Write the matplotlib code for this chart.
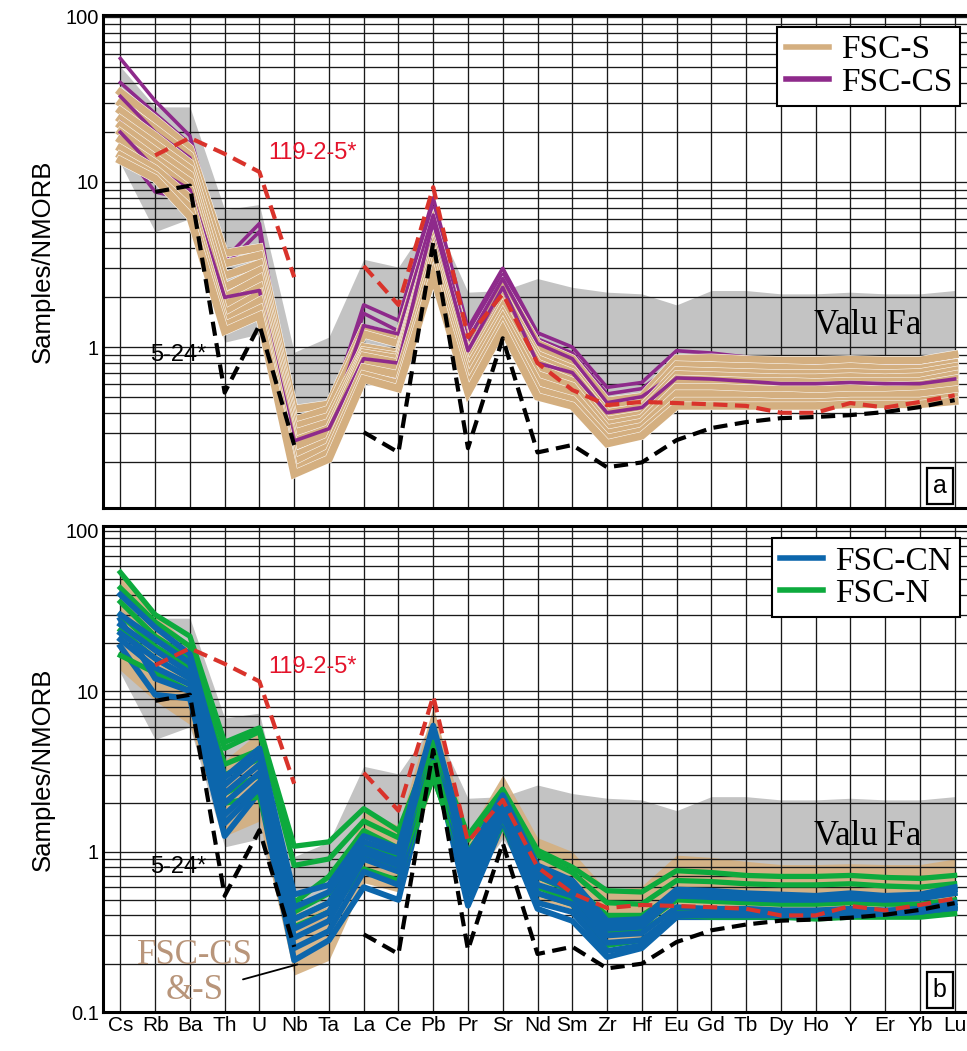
import numpy as np
import matplotlib
matplotlib.use("Agg")
import matplotlib.pyplot as plt
import matplotlib.patheffects as pe
from matplotlib.ticker import LogLocator, NullFormatter

# element order (NMORB normalised spider diagram)
elements = ["Cs", "Rb", "Ba", "Th", "U", "Nb", "Ta", "La", "Ce", "Pb", "Pr", "Sr", "Nd",
            "Sm", "Zr", "Hf", "Eu", "Gd", "Tb", "Dy", "Ho", "Y", "Er", "Yb", "Lu"]

# Valu Fa field (grey envelope)
valu_fa_upper = [50, 28.5, 28.5, 6.8, 7.3, 0.93, 1.15, 3.4, 3.05, 6.3, 2.15, 2.2, 2.6, 2.3,
                 2.15, 2.1, 1.8, 2.2, 2.2, 2.1, 2.1, 2.15, 2.1, 2.1, 2.2]
valu_fa_lower = [13, 5.0, 6.0, 1.07, 1.2, 0.27, 0.40, 0.8, 0.7, 3.3, 0.6, 1.2, 0.6, 0.55,
                 0.35, 0.38, 0.5, 0.55, 0.55, 0.55, 0.55, 0.55, 0.55, 0.55, 0.6]

# FSC-S samples (tan)
fsc_s = [
    [35, 24, 16, 3.7, 4.0, 0.42, 0.45, 1.3, 1.15, 5.6, 1.05, 2.4, 1.05, 0.85, 0.47, 0.50, 0.85, 0.86, 0.84, 0.83, 0.83, 0.84, 0.83, 0.83, 0.90],
    [30, 21, 14.5, 3.2, 3.6, 0.36, 0.42, 1.2, 1.05, 5.2, 0.98, 2.25, 0.97, 0.80, 0.43, 0.46, 0.78, 0.77, 0.76, 0.75, 0.74, 0.76, 0.74, 0.74, 0.80],
    [27, 19, 13, 2.7, 3.2, 0.33, 0.38, 1.0, 0.92, 4.8, 0.90, 2.1, 0.90, 0.74, 0.40, 0.43, 0.72, 0.71, 0.70, 0.69, 0.69, 0.70, 0.69, 0.70, 0.76],
    [24, 17, 12, 2.3, 2.9, 0.30, 0.35, 0.95, 0.88, 4.5, 0.85, 1.95, 0.85, 0.70, 0.38, 0.41, 0.68, 0.67, 0.66, 0.65, 0.65, 0.66, 0.65, 0.66, 0.72],
    [22, 15.5, 11, 2.0, 2.6, 0.27, 0.32, 0.92, 0.85, 4.2, 0.80, 1.85, 0.80, 0.66, 0.36, 0.39, 0.64, 0.63, 0.62, 0.62, 0.61, 0.62, 0.62, 0.62, 0.68],
    [20, 14, 10, 1.8, 2.3, 0.25, 0.30, 0.88, 0.80, 3.9, 0.75, 1.75, 0.75, 0.62, 0.34, 0.37, 0.61, 0.60, 0.59, 0.58, 0.58, 0.59, 0.58, 0.59, 0.64],
    [18, 13, 9, 1.6, 2.1, 0.22, 0.27, 0.82, 0.75, 3.6, 0.70, 1.6, 0.68, 0.58, 0.32, 0.35, 0.57, 0.57, 0.56, 0.55, 0.55, 0.56, 0.55, 0.56, 0.60],
    [16, 12, 8, 1.45, 1.9, 0.20, 0.25, 0.75, 0.68, 3.3, 0.64, 1.5, 0.62, 0.53, 0.30, 0.33, 0.52, 0.52, 0.51, 0.51, 0.50, 0.51, 0.51, 0.52, 0.55],
    [14.5, 11, 7, 1.35, 1.7, 0.18, 0.23, 0.68, 0.60, 3.0, 0.58, 1.38, 0.55, 0.48, 0.28, 0.31, 0.47, 0.47, 0.47, 0.46, 0.46, 0.47, 0.47, 0.47, 0.50],
    [13.5, 10.5, 6.2, 1.25, 1.55, 0.17, 0.21, 0.64, 0.56, 2.7, 0.53, 1.28, 0.50, 0.44, 0.26, 0.29, 0.44, 0.44, 0.44, 0.44, 0.44, 0.45, 0.45, 0.45, 0.47],
]

# FSC-CS samples (purple)
fsc_cs = [
    [56, 31, 19, 3.4, 5.6, 0.32, 0.40, 1.8, 1.45, 8.0, 1.3, 3.0, 1.22, 1.0, 0.57, 0.61, 0.95, 0.92, 0.87, 0.82, 0.80, 0.81, 0.78, 0.78, 0.83],
    [40, 26, 17, 3.1, 5.0, 0.30, 0.37, 1.6, 1.25, 7.0, 1.2, 2.75, 1.12, 0.92, 0.52, 0.56, 0.80, 0.78, 0.75, 0.72, 0.71, 0.72, 0.70, 0.70, 0.75],
    [33, 20, 14, 2.2, 3.0, 0.28, 0.33, 1.35, 1.2, 6.3, 1.1, 2.6, 1.05, 0.85, 0.46, 0.50, 0.70, 0.68, 0.66, 0.65, 0.64, 0.65, 0.64, 0.63, 0.68],
    [23, 15, 11, 1.7, 2.0, 0.24, 0.30, 0.75, 0.72, 5.2, 0.85, 2.0, 0.65, 0.58, 0.34, 0.38, 0.60, 0.59, 0.57, 0.56, 0.56, 0.57, 0.56, 0.56, 0.60],
    [16.5, 8.7, 7.8, 1.6, 1.7, 0.22, 0.28, 0.72, 0.65, 4.5, 0.75, 1.8, 0.62, 0.55, 0.29, 0.33, 0.50, 0.50, 0.50, 0.50, 0.50, 0.51, 0.51, 0.51, 0.55],
    [20, 12, 9, 2.0, 2.2, 0.27, 0.32, 0.85, 0.80, 5.8, 0.95, 2.3, 0.80, 0.70, 0.40, 0.43, 0.65, 0.64, 0.62, 0.60, 0.60, 0.61, 0.60, 0.60, 0.64],
]

# FSC-N samples (green)
fsc_n = [
    [55, 30, 22, 4.8, 5.9, 1.08, 1.15, 1.85, 1.35, 4.8, 1.26, 2.45, 1.02, 0.80, 0.57, 0.56, 0.76, 0.74, 0.71, 0.70, 0.70, 0.71, 0.69, 0.68, 0.71],
    [44, 27, 19, 4.4, 5.6, 0.82, 0.90, 1.55, 1.22, 4.5, 1.18, 2.3, 0.95, 0.74, 0.48, 0.47, 0.66, 0.65, 0.63, 0.62, 0.62, 0.63, 0.61, 0.60, 0.63],
    [36, 22, 16, 3.5, 4.3, 0.48, 0.70, 1.35, 1.05, 3.6, 1.0, 2.0, 0.78, 0.62, 0.40, 0.40, 0.55, 0.54, 0.53, 0.52, 0.52, 0.53, 0.52, 0.52, 0.55],
    [30, 19, 14, 3.0, 3.8, 0.42, 0.55, 1.1, 0.95, 3.2, 0.88, 1.8, 0.70, 0.56, 0.34, 0.35, 0.50, 0.49, 0.48, 0.47, 0.47, 0.48, 0.47, 0.47, 0.50],
    [24, 16, 12, 2.3, 3.0, 0.38, 0.48, 0.95, 0.80, 2.9, 0.75, 1.6, 0.60, 0.50, 0.31, 0.32, 0.44, 0.43, 0.42, 0.42, 0.42, 0.43, 0.42, 0.42, 0.45],
    [16.7, 13, 10, 2.0, 2.2, 0.34, 0.42, 0.78, 0.66, 3.0, 0.65, 1.45, 0.55, 0.47, 0.26, 0.28, 0.40, 0.39, 0.39, 0.39, 0.38, 0.39, 0.39, 0.39, 0.41],
]

# FSC-CN samples (blue)
fsc_cn = [
    [40, 25, 17, 2.9, 4.4, 0.54, 0.62, 1.25, 1.05, 6.1, 0.95, 2.25, 0.82, 0.66, 0.37, 0.38, 0.58, 0.57, 0.55, 0.54, 0.53, 0.55, 0.53, 0.54, 0.60],
    [30, 21, 15, 2.6, 4.0, 0.45, 0.56, 1.15, 0.98, 5.6, 0.88, 2.1, 0.76, 0.62, 0.35, 0.36, 0.56, 0.55, 0.54, 0.53, 0.52, 0.54, 0.52, 0.53, 0.58],
    [26, 18, 13, 2.3, 3.5, 0.38, 0.48, 1.05, 0.88, 5.2, 0.80, 1.95, 0.70, 0.58, 0.33, 0.34, 0.53, 0.52, 0.51, 0.50, 0.50, 0.51, 0.50, 0.51, 0.55],
    [23, 16, 12, 2.0, 3.1, 0.33, 0.42, 0.98, 0.82, 4.8, 0.72, 1.8, 0.62, 0.53, 0.30, 0.31, 0.45, 0.44, 0.44, 0.43, 0.43, 0.44, 0.43, 0.44, 0.48],
    [21, 14, 11, 1.7, 2.7, 0.29, 0.37, 0.90, 0.75, 4.4, 0.62, 1.65, 0.55, 0.47, 0.27, 0.28, 0.41, 0.41, 0.41, 0.40, 0.40, 0.41, 0.41, 0.42, 0.45],
    [28, 12, 10, 1.5, 2.5, 0.25, 0.32, 0.75, 0.62, 4.1, 0.55, 1.55, 0.48, 0.42, 0.24, 0.26, 0.40, 0.40, 0.40, 0.40, 0.40, 0.40, 0.41, 0.42, 0.46],
    [19, 9.5, 9, 1.25, 2.35, 0.21, 0.28, 0.60, 0.50, 3.8, 0.46, 1.5, 0.44, 0.37, 0.22, 0.25, 0.39, 0.39, 0.39, 0.39, 0.39, 0.40, 0.40, 0.41, 0.44],
]

# reference samples (dashed)
nan = np.nan
sample_119_2_5 = [nan, 14.5, 18.5, 14.8, 11.5, 2.65, nan, 3.1, 1.8, 9.3, 1.15, 2.1, 0.80, 0.55,
                  0.445, 0.465, 0.458, 0.45, 0.44, 0.40, 0.40, 0.458, 0.43, 0.465, 0.51]
sample_5_24 = [nan, 8.7, 9.5, 0.53, 1.36, 0.255, nan, 0.305, 0.23, 4.3, 0.244, 1.13, 0.23, 0.255,
               0.187, 0.20, 0.273, 0.323, 0.351, 0.371, 0.377, 0.387, 0.404, 0.433, 0.477]

TAN = "#D4AF80"
PURPLE = "#8E2A8B"
BLUE = "#0C66AC"
GREEN = "#0DAA3D"
GREY = "#C3C3C3"
RED = "#D9332B"

x = np.arange(len(elements))
serif = ["Liberation Serif", "DejaVu Serif"]
sans = ["Liberation Sans", "DejaVu Sans"]
plt.rcParams["font.family"] = sans

fig = plt.figure(figsize=(9.67, 10.51), dpi=100)
ax1 = fig.add_axes([0.1065, 0.5167, 0.8987, 0.4691])
ax2 = fig.add_axes([0.1065, 0.0371, 0.8987, 0.4624])


def setup(ax, ylim, yticks, show_x):
    ax.set_yscale("log")
    ax.set_xlim(-0.5, 24.5)
    ax.set_ylim(*ylim)
    ax.set_yticks(yticks)
    ax.set_yticklabels([f"{t:g}" for t in yticks], fontsize=14.5)
    ax.yaxis.set_minor_locator(LogLocator(base=10, subs=np.arange(2, 10)))
    ax.yaxis.set_minor_formatter(NullFormatter())
    ax.set_xticks(x)
    if show_x:
        ax.set_xticklabels(elements, fontsize=15)
    else:
        ax.set_xticklabels([])
    ax.tick_params(which="both", length=0, pad=3)
    ax.grid(True, which="both", axis="y", color="#1a1a1a", lw=0.95)
    ax.grid(True, which="major", axis="x", color="#1a1a1a", lw=0.95)
    for s in ax.spines.values():
        s.set_linewidth(2.2)
    ax.set_ylabel("Samples/NMORB", fontsize=18.5, labelpad=8)


def dashed_refs(ax):
    ax.plot(x, sample_119_2_5, color=RED, lw=3, dashes=(3.4, 1.8), zorder=6)
    ax.plot(x, sample_5_24, color="black", lw=3, dashes=(3.4, 1.8), zorder=6)


setup(ax1, (0.106, 102.8), [1, 10, 100], False)
setup(ax2, (0.1, 107), [0.1, 1, 10, 100], True)

# ---- panel a
ax1.fill_between(x, valu_fa_lower, valu_fa_upper, color=GREY, lw=0, zorder=1)
white_edge = [pe.Stroke(linewidth=6.2, foreground="white"), pe.Normal()]
order = [0, 0, 1, 1, 0, 1, 1, 0, 1, 0, 1, 1, 0, 1, 1, 1]
i_s, i_cs = 0, 0
for o in order:
    if o == 1 and i_s < len(fsc_s):
        ax1.plot(x, fsc_s[i_s], color=TAN, lw=5.5, solid_joinstyle="miter",
                 path_effects=white_edge, zorder=3)
        i_s += 1
    elif i_cs < len(fsc_cs):
        ax1.plot(x, fsc_cs[i_cs], color=PURPLE, lw=2.6, zorder=3)
        i_cs += 1
dashed_refs(ax1)
ax1.plot([], [], color=TAN, lw=4, label="FSC-S")
ax1.plot([], [], color=PURPLE, lw=4, label="FSC-CS")

# ---- panel b
ax2.fill_between(x, valu_fa_lower, valu_fa_upper, color=GREY, lw=0, zorder=1)
env = np.array(fsc_s + fsc_cs)
ax2.fill_between(x, env.min(axis=0), env.max(axis=0), color=TAN, alpha=0.9, lw=0, zorder=1.2)
for k in range(max(len(fsc_n), len(fsc_cn))):
    if k < len(fsc_cn):
        ax2.plot(x, fsc_cn[len(fsc_cn) - 1 - k], color=BLUE, lw=4.2, zorder=3)
    if k < len(fsc_n):
        ax2.plot(x, fsc_n[len(fsc_n) - 1 - k], color=GREEN, lw=3.8, zorder=3)
dashed_refs(ax2)
ax2.plot([], [], color=BLUE, lw=4, label="FSC-CN")
ax2.plot([], [], color=GREEN, lw=4, label="FSC-N")

for ax, letter, vf_y, t119_y, t524_y in [(ax1, "a", 1.36, 15, 0.89), (ax2, "b", 1.24, 14.1, 0.80)]:
    ax.text(21.5, vf_y, "Valu Fa", family=serif, fontsize=25, ha="center", va="center", zorder=7)
    ax.text(4.25, t119_y, "119-2-5*", color="#E4132B", fontsize=17, ha="left", va="center", zorder=7)
    ax.text(0.86, t524_y, "5-24*", color="black", fontsize=17, ha="left", va="center", zorder=7)
    ax.text(0.963, 0.045, letter, transform=ax.transAxes, fontsize=18, ha="center", va="center",
            zorder=8, bbox=dict(boxstyle="square,pad=0.25", fc="white", ec="black", lw=1.6))
    leg = ax.legend(loc="upper right", prop={"family": serif, "size": 24}, frameon=True,
                    fancybox=False, edgecolor="black", framealpha=1, borderaxespad=0.35,
                    handlelength=1.3, handletextpad=0.35, labelspacing=0.05, borderpad=0.25)
    leg.get_frame().set_linewidth(1.5)
    leg.set_zorder(9)

ax2.text(2.15, 0.175, "FSC-CS\n&-S", family=serif, fontsize=25, color="#B8957A",
         ha="center", va="center", linespacing=1.1, zorder=7)
ax2.annotate("", xy=(5.17, 0.20), xytext=(3.45, 0.158),
             arrowprops=dict(arrowstyle="-", color="black", lw=1.3), zorder=7)

fig.savefig("out.png", dpi=100)
